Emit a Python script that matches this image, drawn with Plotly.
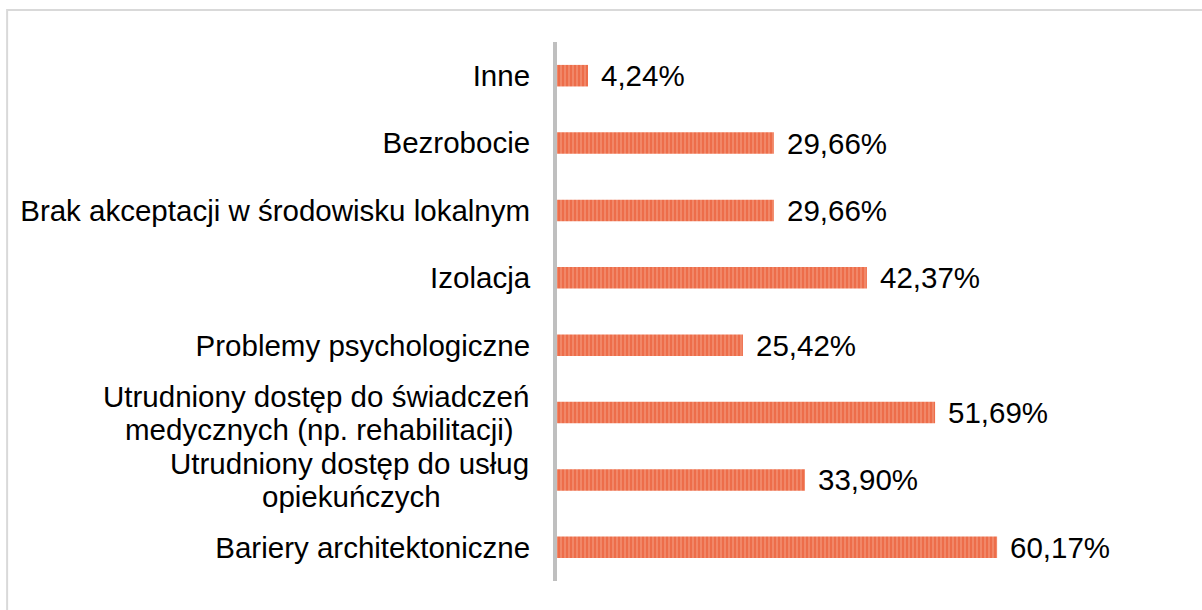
import plotly.graph_objects as go

categories = [
    "Inne",
    "Bezrobocie",
    "Brak akceptacji w środowisku lokalnym",
    "Izolacja",
    "Problemy psychologiczne",
    "Utrudniony dostęp do świadczeń medycznych (np. rehabilitacji)",
    "Utrudniony dostęp do usług opiekuńczych",
    "Bariery architektoniczne",
]
values = [4.24, 29.66, 29.66, 42.37, 25.42, 51.69, 33.90, 60.17]
labels = [f"{v:.2f}%".replace(".", ",") for v in values]

# two-line category labels (first line, second line)
wrapped = {
    "Utrudniony dostęp do świadczeń medycznych (np. rehabilitacji)":
        ("Utrudniony dostęp do świadczeń", "medycznych (np. rehabilitacji)"),
    "Utrudniony dostęp do usług opiekuńczych":
        ("Utrudniony dostęp do usług", "opiekuńczych"),
}
# horizontal centre of each wrapped block, relative to the axis (px)
wrap_center_shift = {
    "Utrudniony dostęp do świadczeń medycznych (np. rehabilitacji)": -238,
    "Utrudniony dostęp do usług opiekuńczych": -206,
}

FONT = "Liberation Sans, Arial, sans-serif"
FS = 29.5
TXT = dict(family=FONT, size=FS, color="#000000")

fig = go.Figure()
fig.add_trace(go.Bar(
    x=values,
    y=categories,
    orientation="h",
    width=0.32,
    marker=dict(
        color="#F4977A",
        line=dict(width=0),
        pattern=dict(shape="|", fgcolor="#E5441A", bgcolor="#F4977A",
                     size=4, solidity=0.7, fillmode="overlay"),
    ),
    hoverinfo="skip",
))

for v, c, t in zip(values, categories, labels):
    fig.add_annotation(x=v, y=c, text=t, xanchor="left", yanchor="middle",
                       xshift=11, showarrow=False, font=TXT)

for c, (l1, l2) in wrapped.items():
    fig.add_annotation(x=0, xref="paper", y=c, yref="y", text=l1,
                       xanchor="right", yanchor="middle", xshift=-26,
                       yshift=16.5, showarrow=False, font=TXT)
    fig.add_annotation(x=0, xref="paper", y=c, yref="y", text=l2,
                       xanchor="center", yanchor="middle",
                       xshift=wrap_center_shift[c], yshift=-16.5,
                       showarrow=False, font=TXT)

ticktext = ["" if c in wrapped else c for c in categories]

# outer light-gray frame of the chart area
fig.add_shape(type="rect", xref="paper", yref="paper",
              x0=-1.074, x1=1.3, y0=-0.1, y1=1.0594,
              line=dict(color="#D9D9D9", width=2), fillcolor="rgba(0,0,0,0)")

fig.update_layout(
    width=1202, height=610,
    margin=dict(l=557, r=133, t=42, b=29),
    paper_bgcolor="white", plot_bgcolor="white",
    showlegend=False,
    font=TXT,
    xaxis=dict(range=[0, 70], visible=False, showgrid=False, zeroline=False),
    yaxis=dict(autorange="reversed", showline=True, linecolor="#BFBFBF",
               linewidth=4, ticks="", ticklabelstandoff=17, showgrid=False,
               tickmode="array", tickvals=categories, ticktext=ticktext,
               tickfont=TXT),
)

fig.write_html("out.html", config={"displayModeBar": False},
               post_script="document.body.style.margin='0';document.body.style.overflow='hidden';")
